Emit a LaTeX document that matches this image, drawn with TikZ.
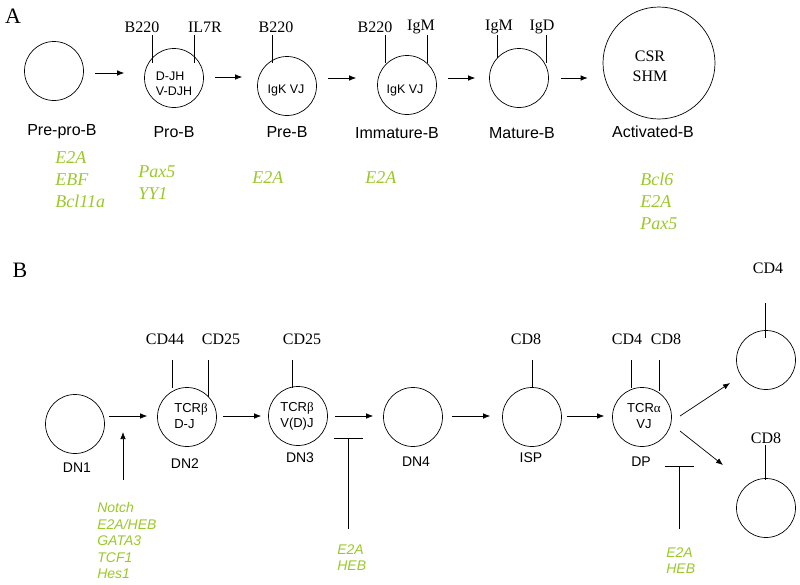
\documentclass[tikz,border=0pt]{standalone}
\usepackage{fontspec}
\setmainfont{Liberation Serif}
\setsansfont{Liberation Sans}
\usepackage{tikz}
\usetikzlibrary{arrows.meta}
\definecolor{tfgreen}{RGB}{155,200,40}
\tikzset{arrow/.style={-{Latex[length=7pt,width=5.5pt]}},
	inhib/.style={-{Bar[width=29pt]}}}

\begin{document}
\begin{tikzpicture}[x=1pt,y=-1pt,line width=.7pt,
	cell/.style={circle, draw, minimum size=59pt, inner sep=0pt},
	celltext/.style={inner sep=0pt, align=left, font=\sffamily\fontsize{12.5}{15}\selectfont},
	marker/.style={inner sep=0pt, font=\rmfamily\fontsize{16}{16}\selectfont},
	stage/.style={inner sep=0pt, font=\sffamily\fontsize{16}{16}\selectfont},
	tstage/.style={inner sep=0pt, font=\sffamily\fontsize{14}{14}\selectfont},
	bfactor/.style={anchor=north west, inner sep=0pt, align=left, text=tfgreen, font=\rmfamily\itshape\fontsize{18}{22}\selectfont},
	tfactor/.style={anchor=north west, inner sep=0pt, align=left, text=tfgreen, font=\sffamily\itshape\fontsize{14}{16.5}\selectfont},
	panel/.style={inner sep=0pt, font=\rmfamily\fontsize{22}{22}\selectfont}]
		
		\useasboundingbox (0,0) rectangle (800,584);
		
		\node[panel] (panelA) at (13,16) {A};
		\node[panel] (panelB) at (20,270) {B};
		
		\node[cell] (preprob) at (54,71) {};
		\node[cell] (prob) at (174,78) {};
		\node[cell] (preb) at (287,86) {};
		\node[cell] (immb) at (407,85) {};
		\node[cell] (matb) at (519,78) {};
		\node[cell, minimum size=112pt] (actb) at (659,63) {};
		
		\node[celltext] (probtext) at (174,84) {D-JH\\V-DJH};
		\node[celltext] (prebtext) at (286,90) {IgK VJ};
		\node[celltext] (immbtext) at (405,90) {IgK VJ};
		\node[inner sep=0pt, align=center, font=\rmfamily\fontsize{16}{20}\selectfont] (actbtext) at (650,66) {CSR\\SHM};
		
		\node[stage] (preprobname) at (62,132) {Pre-pro-B};
		\node[stage] (probname) at (174,132) {Pro-B};
		\node[stage] (prebname) at (287,132) {Pre-B};
		\node[stage] (immbname) at (397,133) {Immature-B};
		\node[stage] (matbname) at (522,133) {Mature-B};
		\node[stage] (actbname) at (653,132) {Activated-B};
		
		\node[marker] (probone) at (142,27) {B220};
		\node[marker] (probtwo) at (205,27) {IL7R};
		\node[marker] (prebone) at (276,27) {B220};
		\node[marker] (immbone) at (375,27) {B220};
		\node[marker] (immbtwo) at (421,27) {IgM};
		\node[marker] (matbone) at (499,27) {IgM};
		\node[marker] (matbtwo) at (542,27) {IgD};
		
		\draw (152,35) -- (152,63);
		\draw (194,35) -- (194,63);
		\draw (272,35) -- (272,63);
		\draw (385,35) -- (385,63);
		\draw (427,35) -- (427,63);
		\draw (497,35) -- (497,58);
		\draw (546,35) -- (546,63);
		
		\draw[arrow, shorten <=11pt, shorten >=20pt] (preprob.east |- 0,73) -- (prob.west |- 0,73);
		\draw[arrow, shorten <=11pt, shorten >=15pt] (prob.east |- 0,77) -- (preb.west |- 0,77);
		\draw[arrow, shorten <=11pt, shorten >=21pt] (preb.east |- 0,78) -- (immb.west |- 0,78);
		\draw[arrow, shorten <=11pt, shorten >=14pt] (immb.east |- 0,78) -- (matb.west |- 0,78);
		\draw[arrow, shorten <=12pt, shorten >=15pt] (matb.east |- 0,78) -- (actb.west |- 0,78);
		
		\node[bfactor] (tfpreprob) at (55,151) {E2A\\EBF\\Bcl11a};
		\node[bfactor] (tfprob) at (138,165) {Pax5\\YY1};
		\node[bfactor] (tfpreb) at (252,171) {E2A};
		\node[bfactor] (tfimmb) at (365,171) {E2A};
		\node[bfactor] (tfactb) at (640,173) {Bcl6\\E2A\\Pax5};
		
		\node[cell] (dnone) at (75,424) {};
		\node[cell] (dntwo) at (187,417) {};
		\node[cell] (dnthree) at (298,416) {};
		\node[cell] (dnfour) at (413,417) {};
		\node[cell] (isp) at (532,417) {};
		\node[cell] (dp) at (642,417) {};
		\node[cell] (cdfour) at (766,360) {};
		\node[cell] (cdeight) at (766,508) {};
		
		\node[celltext, anchor=west, font=\sffamily\fontsize{13}{16}\selectfont] (dntwotext) at (174,416) {TCR{\rmfamily β}\\D-J};
		\node[celltext, anchor=west, font=\sffamily\fontsize{13}{16}\selectfont] (dnthreetext) at (280,416) {TCR{\rmfamily β}\\V(D)J};
		\node[celltext, align=center, font=\sffamily\fontsize{13}{16}\selectfont] (dptext) at (644,416) {TCR{\rmfamily α}\\VJ};
		
		\node[tstage] (dnonename) at (77,468) {DN1};
		\node[tstage] (dntwoname) at (185,464) {DN2};
		\node[tstage] (dnthreename) at (300,458) {DN3};
		\node[tstage] (dnfourname) at (416,462) {DN4};
		\node[tstage] (ispname) at (531,458) {ISP};
		\node[tstage] (dpname) at (641,462) {DP};
		
		\node[marker] (dntwoone) at (165,339) {CD44};
		\node[marker] (dntwotwo) at (221,339) {CD25};
		\node[marker] (dnthreeone) at (302,339) {CD25};
		\node[marker] (ispone) at (526,339) {CD8};
		\node[marker] (dpone) at (627,339) {CD4};
		\node[marker] (dptwo) at (666,339) {CD8};
		\node[marker] (cdfourone) at (768,268) {CD4};
		\node[marker] (cdeightone) at (766,438) {CD8};
		
		\draw (172,360) -- (172,388);
		\draw (208,360) -- (208,397);
		\draw (292,360) -- (292,388);
		\draw (532,360) -- (532,388);
		\draw (631,360) -- (631,388);
		\draw (659,360) -- (659,391);
		\draw (765,303) -- (765,338);
		\draw (765,445) -- (765,480);
		
		\draw[arrow, shorten <=4pt, shorten >=10pt] (dnone.east |- 0,416) -- (dntwo.west |- 0,416);
		\draw[arrow, shorten <=6pt, shorten >=7pt] (dntwo.east |- 0,416) -- (dnthree.west |- 0,416);
		\draw[arrow, shorten <=7pt, shorten >=10pt] (dnthree.east |- 0,416) -- (dnfour.west |- 0,416);
		\draw[arrow, shorten <=9pt, shorten >=12pt] (dnfour.east |- 0,416) -- (isp.west |- 0,416);
		\draw[arrow, shorten <=5pt, shorten >=8pt] (isp.east |- 0,416) -- (dp.west |- 0,416);
		
		\coordinate (dpupstart) at (680,416);
		\coordinate (dpuptip) at (730,383);
		\coordinate (dpdownstart) at (680,431);
		\coordinate (dpdowntip) at (723,465);
		\draw[arrow] (dpupstart) -- (dpuptip);
		\draw[arrow] (dpdownstart) -- (dpdowntip);
		
		\node[tfactor] (tfdnone) at (97,502) {Notch\\E2A/HEB\\GATA3\\TCF1\\Hes1};
		\node[tfactor] (tfdnthree) at (337,544) {E2A\\HEB};
		\node[tfactor] (tfdp) at (666,547) {E2A\\HEB};
		
		\coordinate (notchtip) at (123,432);
		\coordinate (blockdn) at (348,438);
		\coordinate (blockdp) at (679,466);
		\draw[arrow, shorten <=22pt] (notchtip |- tfdnone.north) -- (notchtip);
		\draw[inhib, shorten <=15pt] (blockdn |- tfdnthree.north) -- (blockdn);
		\draw[inhib, shorten <=18pt] (blockdp |- tfdp.north) -- (blockdp);
	\end{tikzpicture}
\end{document}
